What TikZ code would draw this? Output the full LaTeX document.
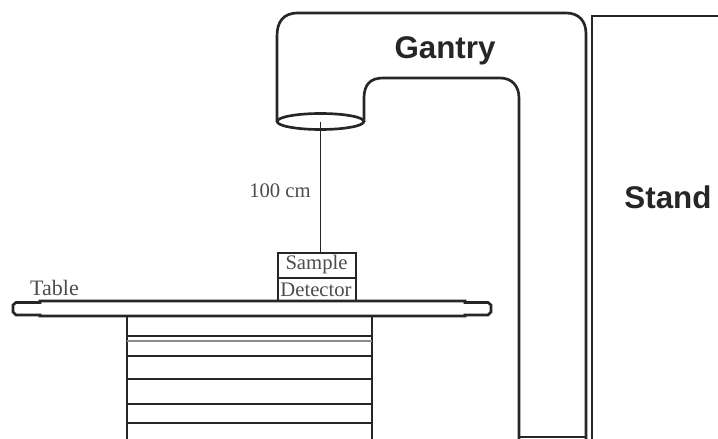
\documentclass[tikz,border=0pt]{standalone}
\usepackage{fontspec}
\setmainfont{Liberation Serif}
\newfontfamily\labelsans{Liberation Sans}
\usetikzlibrary{calc,shapes.geometric}
\begin{document}
\begin{tikzpicture}[x=0.75pt,y=-0.75pt,
  outline/.style={draw=black!85,line width=2pt},
  thinline/.style={draw=black!85,line width=1.2pt},
  faint/.style={draw=black!45,line width=1.1pt},
  boxed/.style={draw=black!85,line width=1.7pt,inner sep=0pt,anchor=north west},
  bigtext/.style={font=\labelsans\bfseries\fontsize{23.5}{26}\selectfont,text=black!85,inner sep=0pt},
  smalltext/.style={font=\fontsize{15.5}{17}\selectfont,text=black!70,inner sep=0pt}]
\useasboundingbox (0,0) rectangle (718,439);
% Gantry
\draw[outline] (277,122) -- (277,36) .. controls (277,22) and (283,13) .. (298,13)
  -- (566,13) .. controls (579,13) and (586,21) .. (586,34) -- (586,439);
\draw[outline] (364,122) -- (364,98) .. controls (364,85) and (370,78) .. (383,78)
  -- (500,78) .. controls (512,78) and (519,86) .. (519,98) -- (519,439);
\draw[outline] (519,437) -- (586,437);
\node[draw=black!85,line width=2pt,ellipse,minimum width=65pt,minimum height=12pt,inner sep=0pt] (aperture) at (320.5,121.5) {};
% Stand
\draw[outline] (718,16) -- (592,16) -- (592,439);
% Sample and detector
\node[boxed,minimum width=58.5pt,minimum height=18.75pt] (sample) at (277,252) {};
\node[boxed,minimum width=58.5pt,minimum height=18pt] (detector) at (277,277) {};
\node[smalltext] (sampletext) at (316.5,265) {Sample};
\node[smalltext] (detectortext) at (316,290) {Detector};
\draw[thinline] (aperture.center) -- (sample.north -| aperture.center);
% Table
\draw[outline,fill=white] (40,301) -- (465,301) -- (465,302.5) -- (488,302.5) -- (491,305) -- (491,312) -- (488,315) -- (465,315) -- (465,316) -- (40,316) -- (40,315) -- (16,315) -- (13,312) -- (13,305) -- (16,302.5) -- (40,302.5) -- cycle;
% Base
\draw[outline] (127,316) -- (127,439);
\draw[outline] (372,316) -- (372,439);
\foreach \yy in {336,356,379,404,423}
  \draw[thinline,line width=1.5pt] (127,\yy) -- (372,\yy);
\draw[faint] (127,341) -- (372,341);
% Labels
\node[bigtext] (gantry) at (445,51) {Gantry};
\node[bigtext] (stand) at (668,197) {Stand};
\node[smalltext] (dist) at (280,191) {100 cm};
\node[smalltext,font=\fontsize{16.5}{18}\selectfont] (table) at (54.5,288) {Table};
\end{tikzpicture}
\end{document}
